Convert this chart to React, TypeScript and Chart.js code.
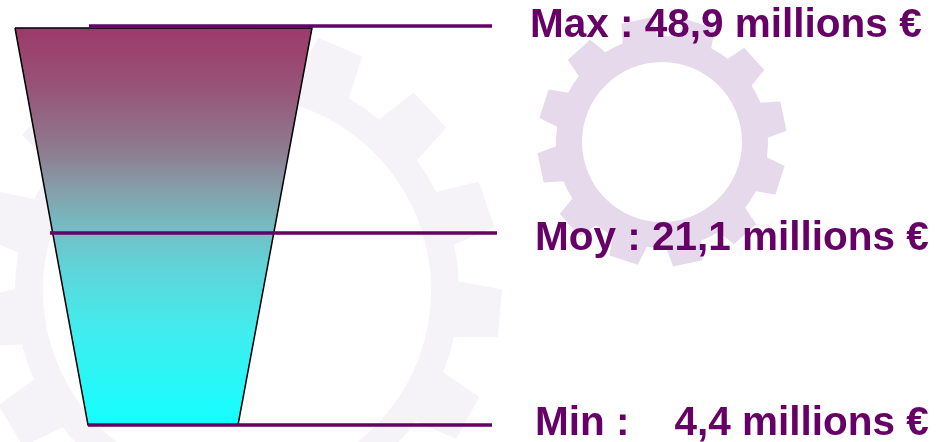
import React, { useEffect, useRef } from "react";
import { Chart, registerables } from "chart.js";

Chart.register(...registerables);

// ---- data ----
const levelLabels = ["Max", "Moy", "Min"];
const levelValues = ["48,9", "21,1", "4,4"];
const levelSeparators = [" : ", " : ", " :    "];
const levelUnit = "millions €";

// vertical position of each level on the (reversed) y scale
const levelRows = [26, 233, 425];
const levelLineStart = [89, 50, 88];
const levelLineEnd = [492, 497, 492];
const labelX = [530, 535, 535];
const labelBaseline = [37, 250, 435];

// funnel outline (closed)
const funnelX = [15, 312, 238, 88, 15];
const funnelY = [28, 28, 425, 425, 28];
const funnelStops = [0, 0.15, 0.31, 0.41, 0.5, 0.59, 0.76, 1];
const funnelColors = ["#9c3a6a", "#985478", "#8e7c90", "#85a0aa", "#74bcc2", "#62d2d6", "#42ecee", "#14ffff"];

// background gears
const gearCx = [237, 662];
const gearCy = [290, 142];
const gearInner = [194, 80];
const gearBody = [222, 106];
const gearTip = [265, 125];
const gearTeeth = [15, 12];
const gearOffset = [5, 18];
const gearBaseW = [56, 36];
const gearTipW = [48, 30];
const gearColors = ["#f6f3f8", "#e6d9eb"];

const PURPLE = "#660066";

function gearPath(c: CanvasRenderingContext2D, cx: number, cy: number, rIn: number, rBody: number, rTip: number, n: number, offDeg: number, baseW: number, tipW: number) {
  const pitch = (Math.PI * 2) / n;
  const off = (offDeg * Math.PI) / 180;
  const hb = baseW / 2 / rBody;
  const ht = tipW / 2 / rTip;
  const pt = (r: number, a: number): [number, number] => [cx + r * Math.cos(a), cy + r * Math.sin(a)];
  c.beginPath();
  const s = pt(rBody, off - hb);
  c.moveTo(s[0], s[1]);
  for (let i = 0; i < n; i++) {
    const a = off + i * pitch;
    const p1 = pt(rTip, a - ht);
    const p2 = pt(rTip, a + ht);
    const p3 = pt(rBody, a + hb);
    c.lineTo(p1[0], p1[1]);
    c.lineTo(p2[0], p2[1]);
    c.lineTo(p3[0], p3[1]);
    c.arc(cx, cy, rBody, a + hb, a + pitch - hb);
  }
  c.closePath();
  c.moveTo(cx + rIn, cy);
  c.arc(cx, cy, rIn, 0, Math.PI * 2, true);
  c.closePath();
}

const gearPlugin = {
  id: "gears",
  beforeDraw(chart: any) {
    const c = chart.ctx as CanvasRenderingContext2D;
    const xs = chart.scales.x;
    const ys = chart.scales.y;
    const k = xs.getPixelForValue(1) - xs.getPixelForValue(0);
    c.save();
    for (let i = 0; i < gearCx.length; i++) {
      gearPath(
        c,
        xs.getPixelForValue(gearCx[i]),
        ys.getPixelForValue(gearCy[i]),
        gearInner[i] * k,
        gearBody[i] * k,
        gearTip[i] * k,
        gearTeeth[i],
        gearOffset[i],
        gearBaseW[i] * k,
        gearTipW[i] * k
      );
      c.fillStyle = gearColors[i];
      c.fill("evenodd");
    }
    c.restore();
  },
};

const labelPlugin = {
  id: "levelLabels",
  afterDraw(chart: any) {
    const c = chart.ctx as CanvasRenderingContext2D;
    const xs = chart.scales.x;
    const ys = chart.scales.y;
    c.save();
    c.fillStyle = PURPLE;
    c.font = 'bold 40.5px "Liberation Sans", Arial, sans-serif';
    c.textAlign = "left";
    c.textBaseline = "alphabetic";
    for (let i = 0; i < levelLabels.length; i++) {
      const txt = `${levelLabels[i]}${levelSeparators[i]}${levelValues[i]} ${levelUnit}`;
      c.fillText(txt, xs.getPixelForValue(labelX[i]), ys.getPixelForValue(labelBaseline[i]));
    }
    c.restore();
  },
};

export default function App() {
  const ref = useRef<HTMLCanvasElement | null>(null);

  useEffect(() => {
    document.body.style.margin = "0";
    if (!ref.current) return;

    const funnelData = funnelX.map((x, i) => ({ x, y: funnelY[i] }));
    const lineSets = levelRows.map((y, i) => ({
      label: levelLabels[i],
      data: [
        { x: levelLineStart[i], y },
        { x: levelLineEnd[i], y },
      ],
      showLine: true,
      fill: false,
      borderColor: PURPLE,
      borderWidth: 3.5,
      borderCapStyle: "butt" as const,
      pointRadius: 0,
      order: 1,
    }));

    const chart = new Chart(ref.current, {
      type: "scatter",
      data: {
        datasets: [
          {
            label: "funnel",
            data: funnelData,
            showLine: true,
            fill: "shape",
            tension: 0,
            borderColor: "#000000",
            borderWidth: 1.5,
            borderJoinStyle: "miter",
            pointRadius: 0,
            order: 2,
            backgroundColor: (ctx: any) => {
              const ch = ctx.chart;
              if (!ch.chartArea) return funnelColors[0];
              const ys = ch.scales.y;
              const g = ch.ctx.createLinearGradient(0, ys.getPixelForValue(funnelY[0]), 0, ys.getPixelForValue(funnelY[2]));
              funnelStops.forEach((s, i) => g.addColorStop(s, funnelColors[i]));
              return g;
            },
          } as any,
          ...lineSets,
        ],
      },
      options: {
        animation: false,
        responsive: true,
        maintainAspectRatio: false,
        events: [],
        layout: { padding: 0 },
        scales: {
          x: { type: "linear", min: 0, max: 943, display: false },
          y: { type: "linear", min: 0, max: 442, reverse: true, display: false },
        },
        plugins: {
          legend: { display: false },
          tooltip: { enabled: false },
        },
      },
      plugins: [gearPlugin, labelPlugin],
    });

    return () => chart.destroy();
  }, []);

  return (
    <div style={{ position: "fixed", left: 0, top: 0, width: 943, height: 442, background: "#ffffff" }}>
      <canvas ref={ref} />
    </div>
  );
}
